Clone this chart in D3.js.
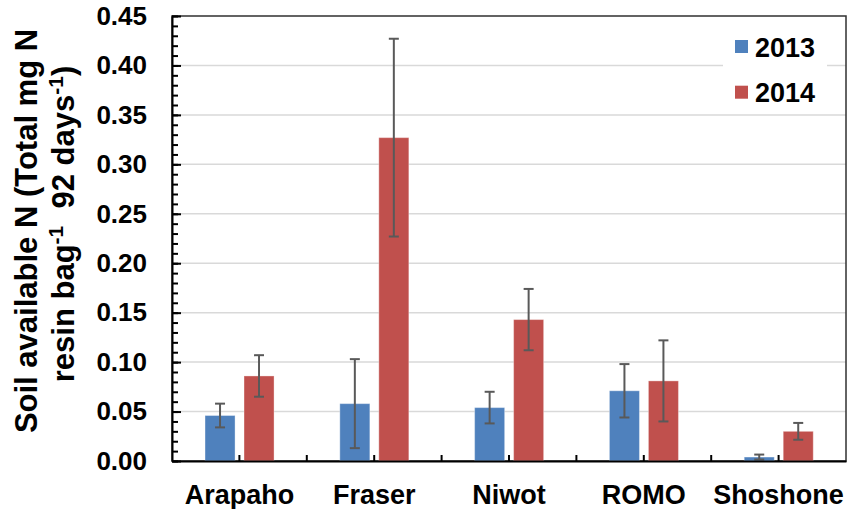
<!DOCTYPE html>
<html>
<head>
<meta charset="utf-8">
<script src="https://cdn.jsdelivr.net/npm/d3@7"></script>
<style>
  body { margin: 0; background: #fff; }
  svg { display: block; font-family: "Liberation Sans", Arial, sans-serif; font-weight: bold; }
</style>
</head>
<body>
<div id="chart"></div>
<script>
// data
const sites = ['Arapaho', 'Fraser', 'Niwot', 'ROMO', 'Shoshone'];
const years = ['2013', '2014'];
const values2013 = [0.046, 0.058, 0.054, 0.071, 0.004];
const values2014 = [0.086, 0.327, 0.143, 0.081, 0.030];
const err2013 = [0.012, 0.045, 0.016, 0.027, 0.0025];
const err2014 = [0.021, 0.100, 0.031, 0.041, 0.0085];
const yTicks = [0, 0.05, 0.10, 0.15, 0.20, 0.25, 0.30, 0.35, 0.40, 0.45];
const colors = { '2013': '#4F81BD', '2014': '#C0504D' };

const W = 847, H = 509;
const plot = { left: 172, right: 846, top: 16, bottom: 461 };

const svg = d3.select('#chart').append('svg')
    .attr('width', W)
    .attr('height', H);

const x = d3.scaleBand()
    .domain(sites)
    .range([plot.left, plot.right]);

const bw = x.bandwidth();
const xSub = d3.scaleBand()
    .domain(years)
    .range([bw * 0.245, bw * 0.757])
    .paddingInner(0.23);

const y = d3.scaleLinear()
    .domain([0, 0.45])
    .range([plot.bottom, plot.top]);

// gridlines
svg.append('g')
    .selectAll('line')
    .data(yTicks.filter(t => t > 0 && t < 0.45))
    .join('line')
    .attr('x1', plot.left)
    .attr('x2', plot.right)
    .attr('y1', d => y(d))
    .attr('y2', d => y(d))
    .style('stroke', '#d9d9d9')
    .style('stroke-width', 1.5);

// plot border (top + right)
svg.append('rect')
    .attr('x', plot.left)
    .attr('y', plot.top)
    .attr('width', plot.right - plot.left)
    .attr('height', plot.bottom - plot.top)
    .style('fill', 'none')
    .style('stroke', '#303030')
    .style('stroke-width', 1.5);

// bars
const rows = [];
sites.forEach((s, i) => {
    rows.push({ site: s, year: '2013', v: values2013[i], e: err2013[i] });
    rows.push({ site: s, year: '2014', v: values2014[i], e: err2014[i] });
});

svg.append('g')
    .selectAll('rect')
    .data(rows)
    .join('rect')
    .attr('x', d => x(d.site) + xSub(d.year))
    .attr('y', d => y(d.v))
    .attr('width', xSub.bandwidth())
    .attr('height', d => y(0) - y(d.v))
    .style('fill', d => colors[d.year])
    .style('stroke', 'rgba(255,255,255,0.35)')
    .style('stroke-width', 1);

// error bars
const eb = svg.append('g')
    .style('stroke', '#595959')
    .style('stroke-width', 2);
rows.forEach(d => {
    const cx = x(d.site) + xSub(d.year) + xSub.bandwidth() / 2;
    const top = y(d.v + d.e), bot = y(Math.max(0, d.v - d.e));
    eb.append('line').attr('x1', cx).attr('x2', cx).attr('y1', top).attr('y2', bot);
    eb.append('line').attr('x1', cx - 5).attr('x2', cx + 5).attr('y1', top).attr('y2', top);
    eb.append('line').attr('x1', cx - 5).attr('x2', cx + 5).attr('y1', bot).attr('y2', bot);
});

// y axis: minor ticks
svg.append('g')
    .attr('transform', `translate(${plot.left},0)`)
    .call(d3.axisLeft(y).ticks(45).tickSizeInner(-6).tickSizeOuter(0).tickFormat(''))
    .call(g => g.select('.domain').remove())
    .call(g => g.selectAll('line').style('stroke', '#000').style('stroke-width', 2));

// y axis: major ticks + labels
svg.append('g')
    .attr('transform', `translate(${plot.left},0)`)
    .call(d3.axisLeft(y).tickValues(yTicks).tickSizeInner(-9).tickSizeOuter(0)
        .tickPadding(25).tickFormat(d3.format('.2f')))
    .call(g => g.select('.domain').style('stroke', '#000').style('stroke-width', 2))
    .call(g => g.selectAll('line').style('stroke', '#000').style('stroke-width', 2))
    .call(g => g.selectAll('text')
        .style('font-size', '26px')
        .style('font-family', '"Liberation Sans", Arial, sans-serif')
        .style('font-weight', 'bold')
        .style('fill', '#000'));

// x axis: labels
svg.append('g')
    .attr('transform', `translate(0,${plot.bottom})`)
    .call(d3.axisBottom(x).tickSize(0).tickPadding(24))
    .call(g => g.select('.domain').style('stroke', '#000').style('stroke-width', 2))
    .call(g => g.selectAll('text')
        .style('font-size', '27px')
        .style('font-family', '"Liberation Sans", Arial, sans-serif')
        .style('font-weight', 'bold')
        .style('fill', '#000'));

// x axis: tick marks at band edges and centres, pointing up
const xTickPos = [];
sites.forEach((s, i) => {
    xTickPos.push(x(s) + bw / 2);
    if (i < sites.length - 1) xTickPos.push(x(s) + bw);
});
svg.append('g')
    .selectAll('line')
    .data(xTickPos)
    .join('line')
    .attr('x1', d => d)
    .attr('x2', d => d)
    .attr('y1', plot.bottom)
    .attr('y2', plot.bottom - 6)
    .style('stroke', '#000')
    .style('stroke-width', 2);

// legend
const legend = svg.append('g');
legend.append('rect')
    .attr('x', 723).attr('y', 28)
    .attr('width', 104).attr('height', 82)
    .style('fill', '#fff');
years.forEach((yr, i) => {
    const ly = 40 + i * 45.7;
    legend.append('rect')
        .attr('x', 735).attr('y', ly)
        .attr('width', 13).attr('height', 13)
        .style('fill', colors[yr]);
    legend.append('text')
        .attr('x', 755).attr('y', ly + 16.7)
        .style('font-size', '27px')
        .style('fill', '#000')
        .text(yr);
});

// y axis title, two lines
svg.append('text')
    .attr('transform', 'translate(37,231) rotate(-90)')
    .attr('text-anchor', 'middle')
    .style('font-size', '31px')
    .style('fill', '#000')
    .text('Soil available N (Total mg N');

const t2 = svg.append('text')
    .attr('transform', 'translate(74,224) rotate(-90)')
    .attr('text-anchor', 'middle')
    .attr('xml:space', 'preserve')
    .style('white-space', 'pre')
    .style('font-size', '31px')
    .style('fill', '#000');
t2.append('tspan').text('resin bag');
t2.append('tspan').attr('dy', -11).style('font-size', '21px').text('-1');
t2.append('tspan').attr('dy', 11).text('  92 days');
t2.append('tspan').attr('dy', -11).style('font-size', '21px').text('-1');
t2.append('tspan').attr('dy', 11).text(')');
</script>
</body>
</html>
